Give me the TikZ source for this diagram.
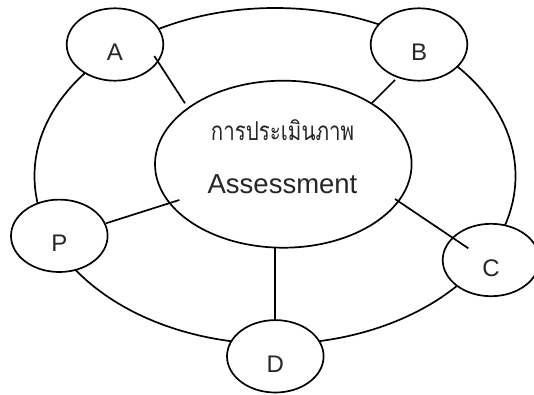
\documentclass[tikz,border=0pt]{standalone}
\usepackage{fontspec}
\setmainfont{Liberation Sans}
\newfontfamily\thaifont[Script=Thai,FakeStretch=0.79]{Loma}
\usetikzlibrary{shapes.geometric,calc}
\begin{document}
\begin{tikzpicture}[x=1pt,y=-1pt,
  ln/.style={draw=black, line width=1.7pt},
  small/.style={ln, ellipse, fill=white, inner sep=0pt,
    minimum width=96.6pt, minimum height=72.4pt},
  lbl/.style={inner sep=0pt, anchor=base, font=\fontsize{24}{24}\selectfont, text=black!85},
  link/.style={ln}]
\useasboundingbox (0,0) rectangle (534,394);

% outer ring
\node[ln, ellipse, inner sep=0pt, minimum width=481pt, minimum height=336pt] (ring) at (275,176) {};

% five satellite ellipses
\node[small] (A) at (115,44.5) {};
\node[small] (B) at (419,44.5) {};
\node[small] (P) at (59.3,235.8) {};
\node[small] (C) at (491,260) {};
\node[small] (D) at (275.3,356.3) {};

% central ellipse
\node[ln, ellipse, fill=white, inner sep=0pt, minimum width=256.6pt, minimum height=167pt] (M) at (283.3,164.2) {};

% connector end points
\coordinate (a1) at (154.3,56);   \coordinate (m1) at (185,103.3);
\coordinate (b1) at (395,80);     \coordinate (m2) at (371.7,103.3);
\coordinate (p1) at (106,223.3);  \coordinate (m3) at (179.3,200);
\coordinate (m4) at (395,199);    \coordinate (c1) at (468.3,248.3);
\coordinate (m5) at (275,247.7);  \coordinate (d1) at (275,320);

\draw[link] (a1) -- (m1);
\draw[link] (b1) -- (m2);
\draw[link] (p1) -- (m3);
\draw[link] (m4) -- (c1);
\draw[link] (m5) -- (d1);

% labels
\node[lbl] (tA) at ($(A)+(0,15.5)$) {A};
\node[lbl] (tB) at ($(B)+(0,15.5)$) {B};
\node[lbl] (tP) at ($(P)+(0,15.9)$) {P};
\node[lbl] (tC) at ($(C)+(0,16.5)$) {C};
\node[lbl] (tD) at ($(D)+(0,16)$) {D};

\node[inner sep=0pt, anchor=base, text=black!85, font=\thaifont\fontsize{26}{26}\selectfont] (th) at (282.5,140) {การประเมินภาพ};
\node[inner sep=0pt, anchor=base, text=black!85, font=\fontsize{27.5}{28}\selectfont] (en) at (282.5,193.3) {Assessment};
\end{tikzpicture}
\end{document}
